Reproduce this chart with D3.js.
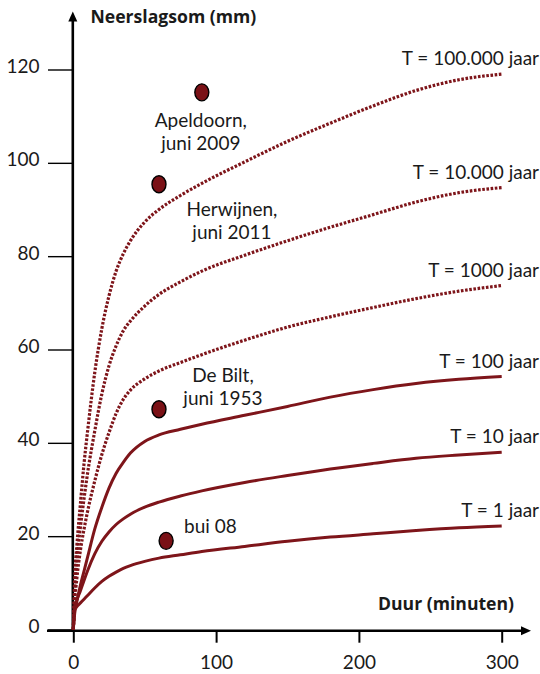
<!DOCTYPE html>
<html><head><meta charset="utf-8">
<script src="https://cdn.jsdelivr.net/npm/d3@7/dist/d3.min.js"></script>
<style>
body{margin:0;background:#fff}
text{font-family:Lato,"Noto Sans",sans-serif;fill:#1a1a1a}
</style>
</head><body>
<svg id="chart" width="540" height="674"></svg>
<script>
// ---- data ----
const durations = [0, 1, 2.5, 5, 7.5, 10, 15, 20, 25, 30, 35, 40, 50, 60, 75, 90, 120, 150, 180, 210, 240, 270, 300];
const seriesLabels = ["T = 1 jaar", "T = 10 jaar", "T = 100 jaar", "T = 1000 jaar", "T = 10.000 jaar", "T = 100.000 jaar"];
const T1      = [0, 4.2, 4.9, 5.7, 6.5, 7.3, 8.9, 10.3, 11.4, 12.3, 13.1, 13.7, 14.6, 15.3, 16.0, 16.7, 17.8, 18.9, 19.8, 20.5, 21.2, 21.8, 22.2];
const T10     = [0, 4.8, 6.3, 8.3, 10.5, 12.6, 16.2, 18.9, 20.9, 22.5, 23.7, 24.7, 26.2, 27.3, 28.6, 29.7, 31.5, 33.0, 34.4, 35.6, 36.7, 37.4, 38.0];
const T100    = [0, 3.5, 6.0, 9.5, 12.5, 15.5, 21.5, 26.2, 30.3, 33.5, 35.8, 37.8, 40.3, 41.7, 42.9, 44.0, 45.9, 47.8, 49.8, 51.4, 52.7, 53.6, 54.2];
const T1000   = [0, 6.0, 11.0, 17.0, 21.5, 25.3, 31.8, 37.5, 42.2, 46.3, 49.3, 51.3, 53.7, 55.4, 57.2, 58.9, 62.0, 64.8, 67.0, 69.0, 70.9, 72.5, 73.7];
const T10000  = [0, 8.0, 15.0, 22.0, 28.0, 33.5, 42.5, 50.5, 56.5, 60.8, 64.0, 66.1, 69.3, 71.8, 74.5, 76.8, 80.2, 83.3, 86.2, 88.9, 91.6, 93.6, 94.7];
const T100000 = [0, 11.0, 18.0, 27.0, 35.5, 42.5, 55.0, 64.5, 71.5, 76.8, 80.5, 83.3, 87.3, 90.0, 93.0, 95.6, 100.2, 104.6, 108.5, 112.2, 115.5, 117.8, 119.0];
const seriesDotted = [false, false, false, true, true, true];

const eventLabels = [["Apeldoorn,", "juni 2009"], ["Herwijnen,", "juni 2011"], ["De Bilt,", "juni 1953"], ["bui 08"]];
const eventDuration = [90, 60, 60, 65];
const eventAmount = [115.1, 95.4, 47.2, 19.0];

const xTickValues = [0, 100, 200, 300];
const yTickValues = [0, 20, 40, 60, 80, 100, 120];
const xTitle = "Duur (minuten)";
const yTitle = "Neerslagsom (mm)";

// ---- drawing ----
const svg = d3.select("#chart");
const red = "#7e151a";
const x = d3.scaleLinear().domain([0, 300]).range([73.3, 501.7]);
const y = d3.scaleLinear().domain([0, 120]).range([629.5, 69.5]);
const axisY0 = 630.7;

// y axis ticks
const gy = svg.append("g").attr("transform", "translate(73,0)")
  .call(d3.axisLeft(y).tickValues(yTickValues).tickSize(25).tickPadding(8.5).tickFormat(d3.format("d")));
gy.select(".domain").remove();
gy.selectAll(".tick line").attr("stroke", "#000").attr("stroke-width", 1.4);
gy.selectAll(".tick text").attr("font-size", 19).attr("dy", "0.16em").attr("font-family", "Lato").attr("fill", "#1a1a1a");

// x axis ticks
const gx = svg.append("g").attr("transform", `translate(0,${axisY0})`)
  .call(d3.axisBottom(x).tickValues(xTickValues).tickSize(12).tickPadding(13).tickFormat(d3.format("d")));
gx.select(".domain").remove();
gx.selectAll(".tick line").attr("stroke", "#000").attr("stroke-width", 2);
gx.selectAll(".tick text").attr("font-size", 19).attr("font-family", "Lato").attr("fill", "#1a1a1a");

// axis lines with arrows
svg.append("line").attr("x1", 47).attr("x2", 524).attr("y1", axisY0).attr("y2", axisY0)
  .attr("stroke", "#000").attr("stroke-width", 2.6);
svg.append("path").attr("d", `M531,${axisY0} L521,${axisY0-4.5} L521,${axisY0+4.5} Z`).attr("fill", "#000");
svg.append("line").attr("x1", 72.8).attr("x2", 72.8).attr("y1", axisY0 + 1).attr("y2", 20)
  .attr("stroke", "#000").attr("stroke-width", 2.6);
svg.append("path").attr("d", "M72.8,11.5 L68.3,21.5 L77.3,21.5 Z").attr("fill", "#000");

// titles
svg.append("text").attr("x", 90.5).attr("y", 22.7).attr("font-size", 17.6).attr("font-weight", "bold")
  .style("font-family", "'Open Sans', Lato, sans-serif").text(yTitle);
svg.append("text").attr("x", 514).attr("y", 610).attr("text-anchor", "end").attr("font-size", 17.6).attr("font-weight", "bold")
  .style("font-family", "'Open Sans', Lato, sans-serif").text(xTitle);

// curves
const allSeries = [T1, T10, T100, T1000, T10000, T100000];
const line = d3.line().x((d, i) => x(durations[i])).y(d => y(d)).curve(d3.curveMonotoneX);
allSeries.forEach((vals, k) => {
  const p = svg.append("path").attr("d", line(vals)).attr("fill", "none")
    .attr("stroke", red).attr("stroke-width", 3);
  if (seriesDotted[k]) p.attr("stroke-dasharray", "2.6,1.6").attr("stroke-width", 3.2);
  svg.append("text").attr("x", 539).attr("y", y(vals[vals.length - 1]) - 9)
    .attr("text-anchor", "end").attr("font-size", 19).text(seriesLabels[k]);
});

// events
const evOffsets = [
  {dx: -1, dy: 34.4, anchor: "middle"},
  {dx: 73, dy: 31.4, anchor: "middle"},
  {dx: 64, dy: -27.3, anchor: "middle"},
  {dx: 18, dy: -8.3, anchor: "start"}
];
eventLabels.forEach((lines, i) => {
  const cx = x(eventDuration[i]), cy = y(eventAmount[i]);
  svg.append("ellipse").attr("cx", cx).attr("cy", cy).attr("rx", 7).attr("ry", 8.5)
    .attr("fill", "#7a1116").attr("stroke", "#000").attr("stroke-width", 1.4);
  const o = evOffsets[i];
  lines.forEach((s, j) => {
    svg.append("text").attr("x", cx + o.dx).attr("y", cy + o.dy + j * 23.5)
      .attr("text-anchor", o.anchor).attr("font-size", 19).text(s);
  });
});
</script>
</body></html>
